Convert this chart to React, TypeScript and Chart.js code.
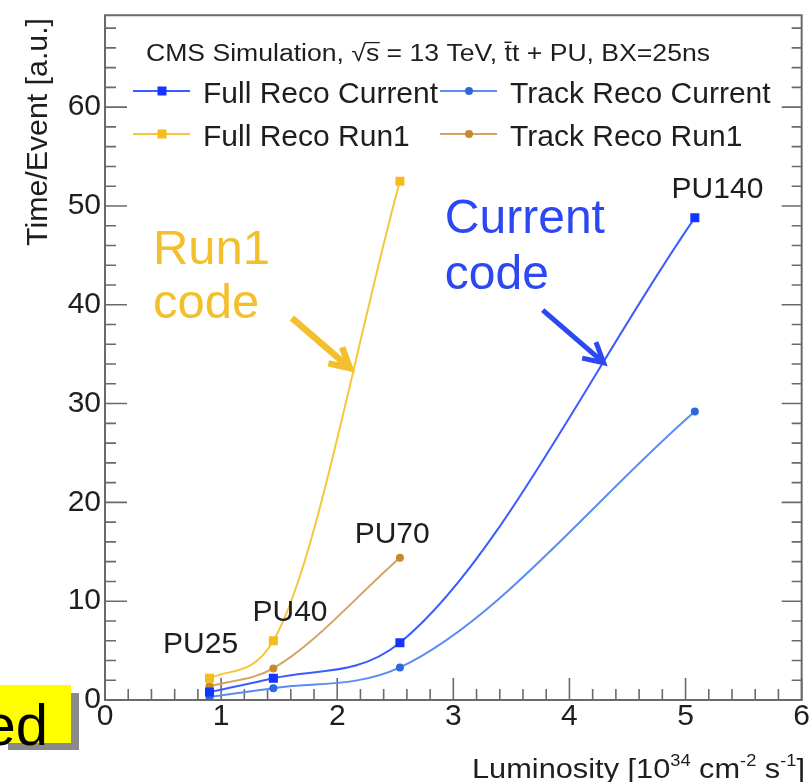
import React, { useEffect, useRef } from 'react';
import { Chart, registerables } from 'chart.js';

Chart.register(...registerables);

// ---- data ----
const PILEUP_LABELS = ['PU25', 'PU40', 'PU70', 'PU140'];
const LUMI_CURRENT = [0.9, 1.45, 2.54, 5.08];
const FULL_RECO_CURRENT = [0.8, 2.2, 5.8, 48.8];
const TRACK_RECO_CURRENT = [0.3, 1.2, 3.3, 29.2];
const LUMI_RUN1 = [0.9, 1.45, 2.54];
const FULL_RECO_RUN1 = [2.2, 6.0, 52.5];
const TRACK_RECO_RUN1 = [1.4, 3.2, 14.4];
const SERIES_NAMES = ['Full Reco Current', 'Track Reco Current', 'Full Reco Run1', 'Track Reco Run1'];
const X_TICKS = [0, 1, 2, 3, 4, 5, 6];
const Y_TICKS = [0, 10, 20, 30, 40, 50, 60];

// ---- layout / style ----
const FONT = '"Liberation Sans", Arial, Helvetica, sans-serif';
const TEXT = '#1e1e1e';
const FRAME = '#6a6a6a';
const COLORS = {
  fullCur: { line: '#3b5cff', mark: '#1434ff' },
  trackCur: { line: '#5a8cf2', mark: '#2c68dc' },
  fullRun1: { line: '#f6c63c', mark: '#f4bd1c' },
  trackRun1: { line: '#d3a464', mark: '#c68a2e' },
};
const YELLOW_TXT = '#f3bf2c';
const BLUE_TXT = '#2c48f2';

// annotation anchors in data coordinates (left, baseline)
const PU_LABEL_POS = [
  [0.5, 4.8],
  [1.27, 8.0],
  [2.15, 15.9],
  [4.88, 50.8],
];

function drawFit(ctx: CanvasRenderingContext2D, text: string, x: number, y: number, size: number, width: number | null, color: string) {
  ctx.save();
  ctx.font = `${size}px ${FONT}`;
  const w = ctx.measureText(text).width;
  const sx = width ? width / w : 1;
  ctx.translate(x, y);
  ctx.scale(sx, 1);
  ctx.textAlign = 'left';
  ctx.textBaseline = 'alphabetic';
  ctx.fillStyle = color;
  ctx.fillText(text, 0, 0);
  ctx.restore();
}

function drawHeader(ctx: CanvasRenderingContext2D, x: number, y: number, size: number, width: number) {
  const pre = 'CMS Simulation, \u221A';
  const full = pre + 's = 13 TeV, t\u0304t + PU, BX=25ns';
  ctx.save();
  ctx.font = `${size}px ${FONT}`;
  const w = ctx.measureText(full).width;
  const sx = width / w;
  ctx.translate(x, y);
  ctx.scale(sx, 1);
  ctx.fillStyle = TEXT;
  ctx.textBaseline = 'alphabetic';
  ctx.fillText(full, 0, 0);
  const ps = ctx.measureText(pre).width;
  const sw = ctx.measureText('s').width;
  ctx.strokeStyle = TEXT;
  ctx.lineWidth = 1.3;
  ctx.beginPath();
  ctx.moveTo(ps - 1, -size * 0.8);
  ctx.lineTo(ps + sw + 0.5, -size * 0.8);
  ctx.stroke();
  ctx.restore();
}

function drawArrow(ctx: CanvasRenderingContext2D, x1: number, y1: number, x2: number, y2: number, color: string, lw: number, head: number) {
  const ang = Math.atan2(y2 - y1, x2 - x1);
  ctx.save();
  ctx.strokeStyle = color;
  ctx.lineWidth = lw;
  ctx.lineCap = 'butt';
  ctx.lineJoin = 'miter';
  ctx.beginPath();
  ctx.moveTo(x1, y1);
  ctx.lineTo(x2 - Math.cos(ang) * 2, y2 - Math.sin(ang) * 2);
  ctx.stroke();
  ctx.beginPath();
  ctx.moveTo(x2 - head * Math.cos(ang - 0.5), y2 - head * Math.sin(ang - 0.5));
  ctx.lineTo(x2, y2);
  ctx.lineTo(x2 - head * Math.cos(ang + 0.5), y2 - head * Math.sin(ang + 0.5));
  ctx.stroke();
  ctx.restore();
}

function drawMarker(ctx: CanvasRenderingContext2D, style: string, x: number, y: number, color: string) {
  ctx.save();
  ctx.fillStyle = color;
  if (style === 'rect') {
    ctx.fillRect(x - 4.5, y - 4.5, 9, 9);
  } else {
    ctx.beginPath();
    ctx.arc(x, y, 4, 0, Math.PI * 2);
    ctx.fill();
  }
  ctx.restore();
}

const overlayPlugin = {
  id: 'rootOverlay',
  beforeDatasetsDraw(chart: any) {
    const { ctx, chartArea: a, scales } = chart;
    const xs = scales.x;
    const ys = scales.y;
    ctx.save();
    ctx.strokeStyle = FRAME;
    ctx.lineWidth = 2;
    ctx.strokeRect(a.left, a.top, a.right - a.left, a.bottom - a.top);
    ctx.lineWidth = 1.6;
    // x ticks (bottom)
    for (let i = 0; i <= 30; i++) {
      const v = i * 0.2;
      const px = xs.getPixelForValue(v);
      const len = i % 5 === 0 ? 22 : 11;
      ctx.beginPath();
      ctx.moveTo(px, a.bottom);
      ctx.lineTo(px, a.bottom - len);
      ctx.stroke();
    }
    // y ticks (left and right)
    for (let i = 0; i <= 34; i++) {
      const v = i * 2;
      const py = ys.getPixelForValue(v);
      const major = i % 5 === 0;
      ctx.beginPath();
      ctx.moveTo(a.left, py);
      ctx.lineTo(a.left + (major ? 22 : 11), py);
      ctx.moveTo(a.right, py);
      ctx.lineTo(a.right - (major ? 20 : 10), py);
      ctx.stroke();
    }
    ctx.restore();
  },
  afterDatasetsDraw(chart: any) {
    const { ctx, scales } = chart;
    const xs = scales.x;
    const ys = scales.y;
    const X = (v: number) => xs.getPixelForValue(v);
    const Y = (v: number) => ys.getPixelForValue(v);

    // header
    drawHeader(ctx, 146, 61, 23, 564);

    // legend
    const legendSlots = [
      [133, 91],
      [440, 91],
      [133, 134],
      [440, 134],
    ];
    chart.data.datasets.forEach((ds: any, i: number) => {
      const [lx, ly] = legendSlots[i];
      ctx.save();
      ctx.strokeStyle = ds.borderColor;
      ctx.lineWidth = 2;
      ctx.beginPath();
      ctx.moveTo(lx, ly);
      ctx.lineTo(lx + 57, ly);
      ctx.stroke();
      ctx.restore();
      drawMarker(ctx, ds.pointStyle, lx + 29, ly, ds.pointBackgroundColor);
      ctx.save();
      ctx.font = `30px ${FONT}`;
      ctx.fillStyle = TEXT;
      ctx.textBaseline = 'alphabetic';
      ctx.fillText(ds.label, lx + 70, ly + 12);
      ctx.restore();
    });

    // PU labels
    PILEUP_LABELS.forEach((t, i) => {
      const [dx, dy] = PU_LABEL_POS[i];
      drawFit(ctx, t, X(dx), Y(dy), 30, null, TEXT);
    });

    // big annotations
    drawFit(ctx, 'Run1', X(0.413), Y(44.1), 49, null, YELLOW_TXT);
    drawFit(ctx, 'code', X(0.413), Y(38.7), 49, null, YELLOW_TXT);
    drawFit(ctx, 'Current', X(2.927), Y(47.3), 48, null, BLUE_TXT);
    drawFit(ctx, 'code', X(2.927), Y(41.6), 48, null, BLUE_TXT);
    drawArrow(ctx, X(1.61), Y(38.66), X(2.109), Y(33.6), YELLOW_TXT, 6.5, 22);
    drawArrow(ctx, X(3.77), Y(39.46), X(4.295), Y(34.13), BLUE_TXT, 5, 22);

    // axis titles
    ctx.save();
    ctx.translate(47, 18);
    ctx.rotate(-Math.PI / 2);
    ctx.font = `30px ${FONT}`;
    const ytitle = 'Time/Event [a.u.]';
    const yw = ctx.measureText(ytitle).width;
    ctx.scale(228 / yw, 1);
    ctx.textAlign = 'right';
    ctx.fillStyle = TEXT;
    ctx.fillText(ytitle, 0, 0);
    ctx.restore();

    // x title with superscripts
    ctx.save();
    const parts: [string, boolean][] = [
      ['Luminosity [10', false],
      ['34', true],
      [' cm', false],
      ['-2', true],
      [' s', false],
      ['-1', true],
      [']', false],
    ];
    const bigF = `27px ${FONT}`;
    const supF = `16px ${FONT}`;
    let total = 0;
    parts.forEach(([s, sup]) => {
      ctx.font = sup ? supF : bigF;
      total += ctx.measureText(s).width;
    });
    const sc = 333 / total;
    ctx.translate(472, 778);
    ctx.scale(sc, 1);
    ctx.fillStyle = TEXT;
    let cx = 0;
    parts.forEach(([s, sup]) => {
      ctx.font = sup ? supF : bigF;
      ctx.fillText(s, cx, sup ? -12 : 0);
      cx += ctx.measureText(s).width;
    });
    ctx.restore();

    // cut-off yellow box at bottom-left
    ctx.save();
    ctx.fillStyle = '#8a8a8a';
    ctx.fillRect(8, 693, 71, 57);
    ctx.fillStyle = '#ffff00';
    ctx.fillRect(0, 685, 71, 58);
    ctx.font = `58px ${FONT}`;
    ctx.fillStyle = '#000';
    ctx.textAlign = 'right';
    ctx.fillText('ed', 48, 745);
    ctx.restore();
  },
};

export default function App() {
  const ref = useRef<HTMLCanvasElement | null>(null);
  useEffect(() => {
    if (!ref.current) return;
    const pts = (xs: number[], ys: number[]) => xs.map((x, i) => ({ x, y: ys[i] }));
    const mk = (label: string, data: any, c: { line: string; mark: string }, style: string) => ({
      label,
      data,
      borderColor: c.line,
      backgroundColor: c.mark,
      pointBackgroundColor: c.mark,
      pointBorderColor: c.mark,
      pointBorderWidth: 0,
      pointStyle: style,
      pointRadius: style === 'rect' ? 6.4 : 4,
      borderWidth: 2,
      cubicInterpolationMode: 'monotone',
      fill: false,
    });
    const chart = new Chart(ref.current, {
      type: 'line',
      data: {
        datasets: [
          mk(SERIES_NAMES[0], pts(LUMI_CURRENT, FULL_RECO_CURRENT), COLORS.fullCur, 'rect'),
          mk(SERIES_NAMES[1], pts(LUMI_CURRENT, TRACK_RECO_CURRENT), COLORS.trackCur, 'circle'),
          mk(SERIES_NAMES[2], pts(LUMI_RUN1, FULL_RECO_RUN1), COLORS.fullRun1, 'rect'),
          mk(SERIES_NAMES[3], pts(LUMI_RUN1, TRACK_RECO_RUN1), COLORS.trackRun1, 'circle'),
        ] as any,
      },
      options: {
        animation: false,
        responsive: false,
        maintainAspectRatio: false,
        layout: { padding: { top: 12, right: 10, left: 0, bottom: 0 } },
        plugins: { legend: { display: false }, tooltip: { enabled: false } },
        scales: {
          x: {
            type: 'linear',
            min: 0,
            max: 6,
            afterBuildTicks: (s: any) => {
              s.ticks = X_TICKS.map((v) => ({ value: v }));
            },
            afterFit: (s: any) => {
              s.height = 82;
            },
            grid: { display: false, drawTicks: false },
            border: { display: false },
            ticks: {
              padding: 2,
              color: TEXT,
              autoSkip: false,
              maxRotation: 0,
              font: { family: FONT, size: 30, lineHeight: 1 },
            },
          },
          y: {
            type: 'linear',
            min: 0,
            max: 69.3,
            afterBuildTicks: (s: any) => {
              s.ticks = Y_TICKS.map((v) => ({ value: v }));
            },
            afterFit: (s: any) => {
              s.width = 105;
            },
            grid: { display: false, drawTicks: false },
            border: { display: false },
            ticks: {
              padding: 4,
              color: TEXT,
              autoSkip: false,
              font: { family: FONT, size: 30, lineHeight: 0.75 },
            },
          },
        },
      } as any,
      plugins: [overlayPlugin as any],
    });
    return () => chart.destroy();
  }, []);
  return (
    <div style={{ position: 'fixed', left: 0, top: 0, width: 812, height: 782, background: '#fff' }}>
      <canvas ref={ref} width={812} height={782} style={{ display: 'block' }} />
    </div>
  );
}
